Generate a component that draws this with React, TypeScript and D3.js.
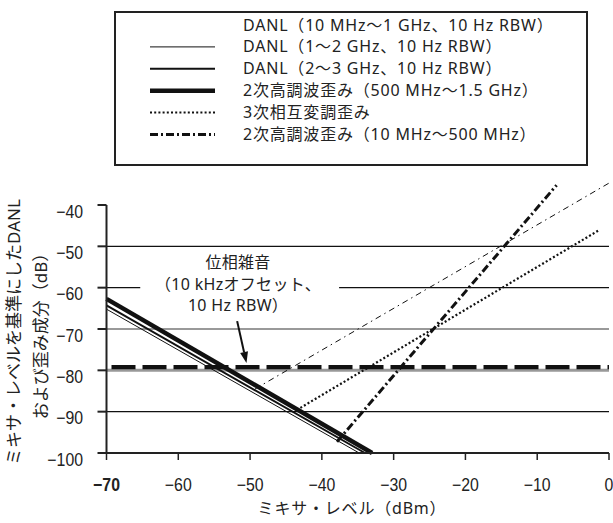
import React from 'react';
import * as d3 from 'd3';

// mixer level (dBm) vs. level relative to mixer (dB)
const xTicks = [-70, -60, -50, -40, -30, -20, -10, 0];
const yTicks = [-40, -50, -60, -70, -80, -90, -100];
const gridLevels = [-50, -60, -70, -90];

const danl1to2 = [[-70, -65.2], [-34.8, -100]];
const danl2to3 = [[-70, -64.3], [-34.0, -100]];
const harm2Mid = [[-70, -62.7], [-33.0, -100]];
const danlLow = [[-49.3, -84.5], [0, -34.7]];
const toi3 = [[-43.5, -89.6], [-1.3, -46.0]];
const harm2Low = [[-37.9, -97.3], [-7.3, -35.2]];
const phaseNoiseLevel = -79.2;

const legendLabels = [
  'DANL（10 MHz～1 GHz、10 Hz RBW）',
  'DANL（1～2 GHz、10 Hz RBW）',
  'DANL（2～3 GHz、10 Hz RBW）',
  '2次高調波歪み（500 MHz～1.5 GHz）',
  '3次相互変調歪み',
  '2次高調波歪み（10 MHz～500 MHz）',
];

const phaseLabel = ['位相雑音', '（10 kHzオフセット、', '10 Hz RBW）'];
const xTitle = 'ミキサ・レベル（dBm）';
const yTitle = ['ミキサ・レベルを基準にしたDANL', 'および歪み成分（dB）'];

const W = 613, H = 523;
const JP = "'Noto Sans', 'Noto Sans CJK JP', sans-serif";
const NUM = "'Liberation Sans', sans-serif";

// line styles, legend order
const styles = [
  null,
  { w: 1, dash: null },
  { w: 2, dash: null },
  { w: 4.5, dash: null },
  { w: 2, dash: '2 2.2' },
  { w: 3, dash: '8 3 2 3' },
];

export default function App() {
  const x = d3.scaleLinear().domain([-70, 0]).range([106.5, 609]);
  const y = d3.scaleLinear().domain([-100, -40]).range([453, 205]);
  const line = d3.line<number[]>().x(d => x(d[0])).y(d => y(d[1]));

  const gapFrom = -65.3, gapTo = -37.6;
  const legendTop = 25, legendStep = 21.9;

  const arrowTail = [-51.8, -68.1];
  const arrowTip = [-50.5, -78.2];
  const ax0 = x(arrowTail[0]), ay0 = y(arrowTail[1]);
  const ax1 = x(arrowTip[0]), ay1 = y(arrowTip[1]);
  const ang = Math.atan2(ay1 - ay0, ax1 - ax0);
  const hl = 11, hw = 4;
  const bx = ax1 - hl * Math.cos(ang), by = ay1 - hl * Math.sin(ang);
  const head = [
    [ax1, ay1],
    [bx + hw * Math.sin(ang), by - hw * Math.cos(ang)],
    [bx - hw * Math.sin(ang), by + hw * Math.cos(ang)],
  ].map(p => p.join(',')).join(' ');

  return (
    <svg width={W} height={H} style={{ position: 'absolute', left: 0, top: 0, background: '#fff' }}>
      {/* legend */}
      <rect x={115} y={12} width={472} height={153} fill="none" stroke="#222" strokeWidth={2} />
      {legendLabels.map((t, i) => {
        const cy = legendTop + i * legendStep;
        const s = styles[i];
        return (
          <g key={t}>
            {s && <line x1={150} x2={215} y1={cy} y2={cy} stroke="#111" strokeWidth={s.w}
              strokeDasharray={s.dash || undefined} />}
            <text x={243} y={cy + 5.5} fontFamily={JP} fontSize={16} letterSpacing={0.8} fill="#222">{t}</text>
          </g>
        );
      })}

      {/* grid */}
      {gridLevels.map(v => v === -60 ? (
        <g key={v}>
          <line x1={x(-70)} x2={x(gapFrom)} y1={y(v)} y2={y(v)} stroke="#111" strokeWidth={1.3} />
          <line x1={x(gapTo)} x2={x(0)} y1={y(v)} y2={y(v)} stroke="#111" strokeWidth={1.3} />
        </g>
      ) : (
        <line key={v} x1={x(-70)} x2={x(0)} y1={y(v)} y2={y(v)}
          stroke={v === -70 ? '#777' : '#111'} strokeWidth={v === -70 ? 1.5 : 1.3} />
      ))}
      <line x1={x(-70)} x2={x(0)} y1={y(-80)} y2={y(-80)} stroke="#999" strokeWidth={3} />

      {/* phase noise */}
      <line x1={x(-70)} x2={x(0)} y1={y(phaseNoiseLevel)} y2={y(phaseNoiseLevel)}
        stroke="#111" strokeWidth={4.3} strokeDasharray="24 7" strokeDashoffset={-5} />

      {/* rising distortion lines */}
      <path d={line(danlLow) || ''} fill="none" stroke="#111" strokeWidth={1} strokeDasharray="6 4 1.5 4" />
      <path d={line(toi3) || ''} fill="none" stroke="#111" strokeWidth={2.2} strokeDasharray={styles[4]!.dash!} />
      <path d={line(harm2Low) || ''} fill="none" stroke="#111" strokeWidth={3} strokeDasharray={styles[5]!.dash!} />

      {/* falling DANL lines */}
      <path d={line(danl1to2) || ''} fill="none" stroke="#111" strokeWidth={1} />
      <path d={line(danl2to3) || ''} fill="none" stroke="#111" strokeWidth={2} />
      <path d={line(harm2Mid) || ''} fill="none" stroke="#111" strokeWidth={4.5} />

      {/* annotation */}
      {phaseLabel.map((t, i) => (
        <text key={t} x={238} y={268 + i * 21.7} textAnchor="middle" fontFamily={JP} fontSize={16}
          letterSpacing={0.3} fill="#222">{t}</text>
      ))}
      <line x1={ax0} y1={ay0} x2={bx} y2={by} stroke="#111" strokeWidth={2} />
      <polygon points={head} fill="#111" />

      {/* axes */}
      <line x1={x(-70)} x2={x(-70)} y1={y(-40)} y2={y(-100)} stroke="#222" strokeWidth={2} />
      <line x1={x(-70) - 1} x2={x(0)} y1={y(-100)} y2={y(-100)} stroke="#222" strokeWidth={2} />
      {yTicks.map(v => (
        <g key={v}>
          <line x1={x(-70) - 9} x2={x(-70)} y1={y(v)} y2={y(v)} stroke="#222" strokeWidth={2} />
          <text transform={`translate(83,${y(v) + 12.5}) scale(0.88,1)`} textAnchor="end"
            fontFamily={NUM} fontSize={18} fill="#222">
            {'\u2212' + Math.abs(v)}
          </text>
        </g>
      ))}
      {xTicks.map(v => (
        <g key={v}>
          <line x1={x(v)} x2={x(v)} y1={y(-100)} y2={y(-100) + 7} stroke="#222" strokeWidth={1.5} />
          <text transform={`translate(${x(v)},491) scale(0.88,1)`} textAnchor="middle" fontFamily={NUM} fontSize={18}
            fontWeight={v === -70 ? 'bold' : 'normal'} fill="#222">
            {v === 0 ? '0' : '\u2212' + Math.abs(v)}
          </text>
        </g>
      ))}
      <text x={352} y={514} textAnchor="middle" fontFamily={JP} fontSize={16} letterSpacing={0.8}
        fill="#222">{xTitle}</text>
      {yTitle.map((t, i) => (
        <text key={t} transform={`translate(${20 + i * 27},332) rotate(-90)`} textAnchor="middle"
          fontFamily={JP} fontSize={17} fill="#222">{t}</text>
      ))}
    </svg>
  );
}
